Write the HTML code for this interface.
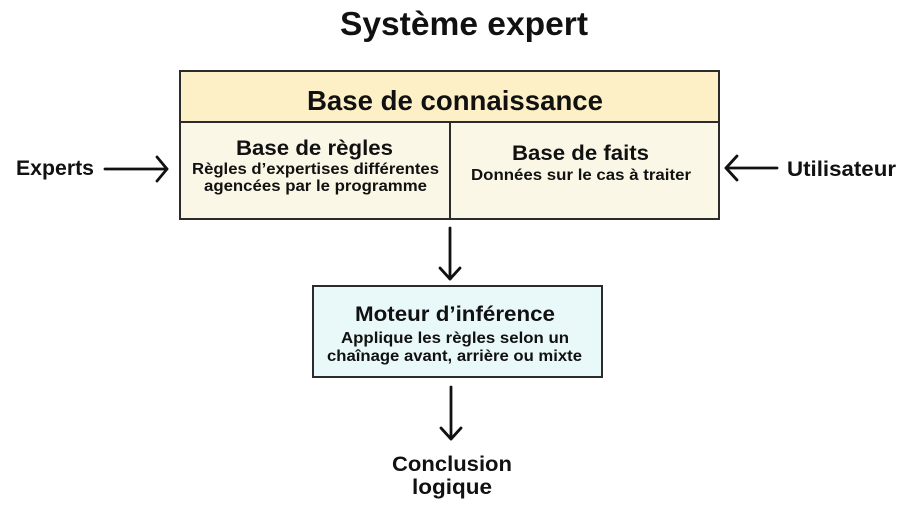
<!DOCTYPE html>
<html>
<head>
<meta charset="utf-8">
<style>
  html, body { margin: 0; padding: 0; background: #ffffff; }
  svg { display: block; }
  text { font-family: "Liberation Sans", Arial, sans-serif; font-weight: bold; fill: #111111; }
</style>
</head>
<body>
<svg width="913" height="523" viewBox="0 0 913 523" xmlns="http://www.w3.org/2000/svg">
  <!-- Title -->
  <text x="340" y="35" font-size="33" textLength="248" lengthAdjust="spacingAndGlyphs">Système expert</text>

  <!-- Knowledge base box -->
  <rect x="180" y="71" width="539" height="51" fill="#FDF0C6"/>
  <rect x="180" y="122" width="539" height="97" fill="#FBF7E6"/>
  <rect x="180" y="71" width="539" height="148" fill="none" stroke="#2b2b2b" stroke-width="2"/>
  <line x1="180" y1="122" x2="719" y2="122" stroke="#2b2b2b" stroke-width="2"/>
  <line x1="450" y1="122" x2="450" y2="219" stroke="#2b2b2b" stroke-width="2"/>

  <text x="307" y="110" font-size="28" textLength="296" lengthAdjust="spacingAndGlyphs">Base de connaissance</text>

  <text x="236" y="155" font-size="21" textLength="157" lengthAdjust="spacingAndGlyphs">Base de règles</text>
  <text x="192" y="174" font-size="16" textLength="247" lengthAdjust="spacingAndGlyphs">Règles d’expertises différentes</text>
  <text x="204" y="191" font-size="16" textLength="223" lengthAdjust="spacingAndGlyphs">agencées par le programme</text>

  <text x="512" y="160" font-size="21" textLength="137" lengthAdjust="spacingAndGlyphs">Base de faits</text>
  <text x="471" y="180" font-size="16" textLength="220" lengthAdjust="spacingAndGlyphs">Données sur le cas à traiter</text>

  <!-- Experts arrow -->
  <text x="16" y="175" font-size="21" textLength="78" lengthAdjust="spacingAndGlyphs">Experts</text>
  <line x1="105" y1="169" x2="167" y2="169" stroke="#111" stroke-width="2.8" stroke-linecap="round"/>
  <polyline points="157,157 167,169 157,181" fill="none" stroke="#111" stroke-width="2.8" stroke-linecap="round" stroke-linejoin="round"/>

  <!-- Utilisateur arrow -->
  <line x1="726" y1="168" x2="777" y2="168" stroke="#111" stroke-width="2.8" stroke-linecap="round"/>
  <polyline points="737,156 726,168 737,180" fill="none" stroke="#111" stroke-width="2.8" stroke-linecap="round" stroke-linejoin="round"/>
  <text x="787" y="176" font-size="21" textLength="109" lengthAdjust="spacingAndGlyphs">Utilisateur</text>

  <!-- Arrow down 1 -->
  <line x1="450" y1="228" x2="450" y2="279" stroke="#111" stroke-width="2.8" stroke-linecap="round"/>
  <polyline points="440,268 450,279 460,268" fill="none" stroke="#111" stroke-width="2.8" stroke-linecap="round" stroke-linejoin="round"/>

  <!-- Inference engine -->
  <rect x="313" y="286" width="289" height="91" fill="#E9F8F8" stroke="#2b2b2b" stroke-width="2"/>
  <text x="355" y="321" font-size="21" textLength="200" lengthAdjust="spacingAndGlyphs">Moteur d’inférence</text>
  <text x="341" y="343" font-size="16" textLength="228" lengthAdjust="spacingAndGlyphs">Applique les règles selon un</text>
  <text x="327" y="361" font-size="16" textLength="255" lengthAdjust="spacingAndGlyphs">chaînage avant, arrière ou mixte</text>

  <!-- Arrow down 2 -->
  <line x1="451" y1="387" x2="451" y2="439" stroke="#111" stroke-width="2.8" stroke-linecap="round"/>
  <polyline points="441,428 451,439 461,428" fill="none" stroke="#111" stroke-width="2.8" stroke-linecap="round" stroke-linejoin="round"/>

  <!-- Conclusion -->
  <text x="392" y="471" font-size="21" textLength="120" lengthAdjust="spacingAndGlyphs">Conclusion</text>
  <text x="412" y="494" font-size="21" textLength="80" lengthAdjust="spacingAndGlyphs">logique</text>
</svg>
</body>
</html>
